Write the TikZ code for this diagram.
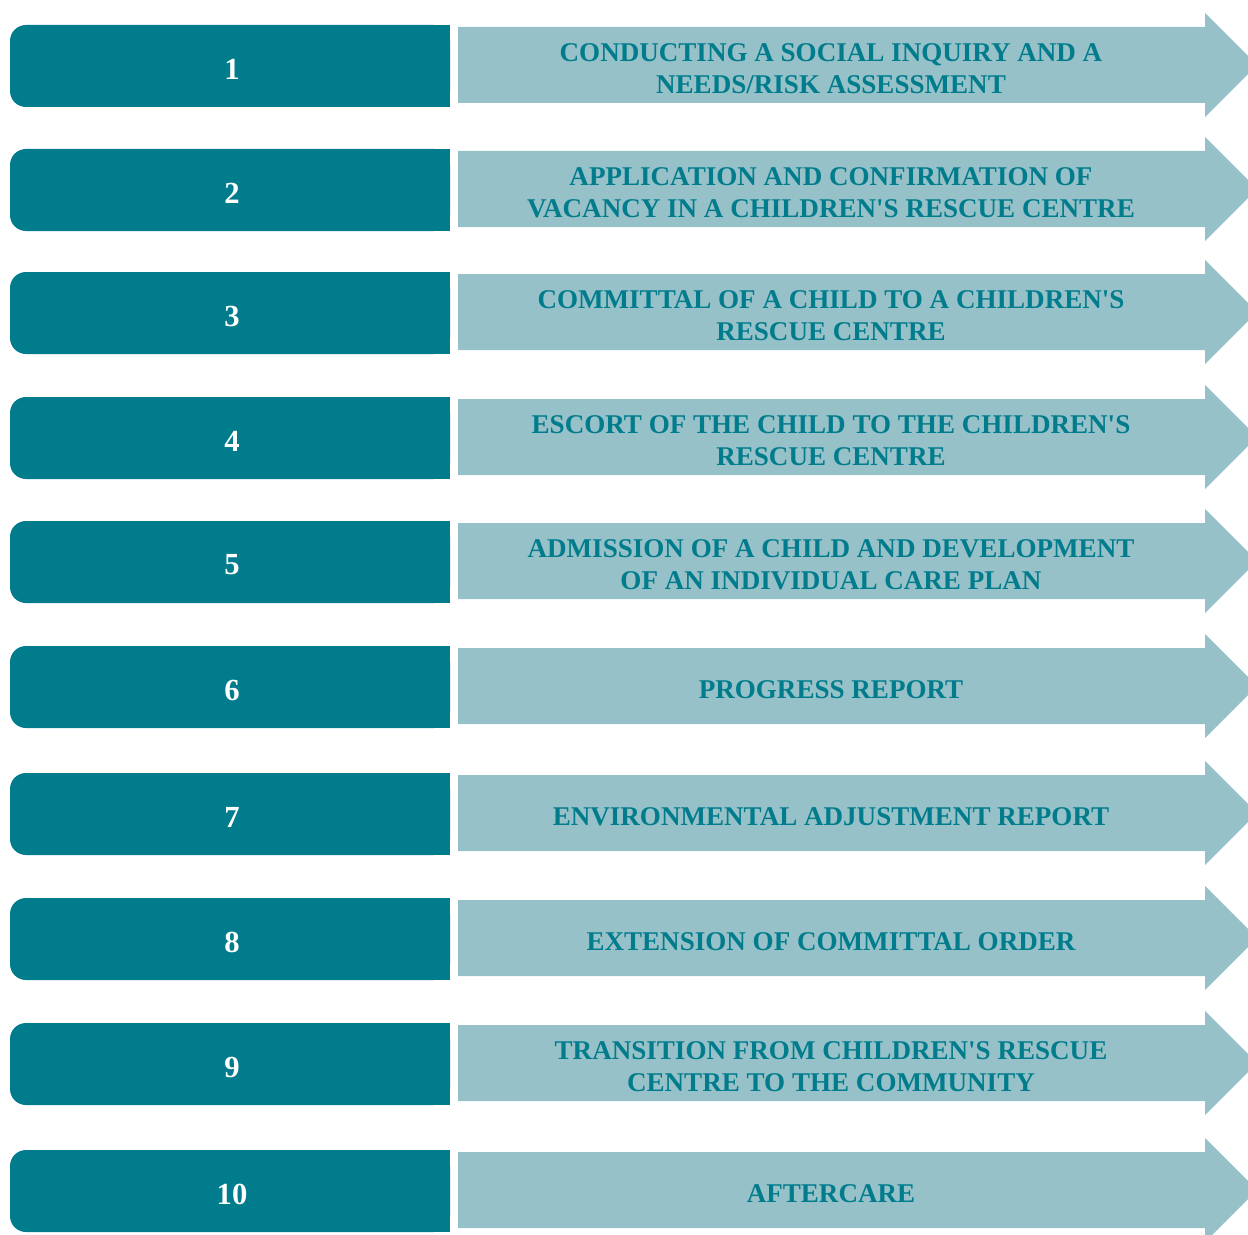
\documentclass[tikz,border=0pt]{standalone}
\usepackage{fontspec}
\setmainfont{Liberation Serif}
\usepackage{tikz}
\usetikzlibrary{positioning,calc}
\definecolor{deepteal}{HTML}{007C8C}
\definecolor{paleteal}{HTML}{96C1C8}
\newcommand{\ap}{\textquotesingle}

\begin{document}
\begin{tikzpicture}[x=0.75pt,y=-0.75pt,
    numtext/.style={text=white,font=\bfseries\fontsize{23}{27}\selectfont,inner sep=0},
    steptext/.style={text=deepteal,font=\bfseries\fontsize{20.3}{24}\selectfont,align=center,inner sep=0}]
  \clip (0,0) rectangle (1248,1234);
  \useasboundingbox (0,0) rectangle (1248,1234);
  % one row: centre y, number, step text
  \def\row#1#2#3{
    \fill[deepteal,rounded corners=12] (10,#1-41) rectangle (450,#1+41);
    \fill[deepteal] (300,#1-41) rectangle (450,#1+41);
    \fill[paleteal] (458,#1-39) -- (1205,#1-39) -- (1205,#1-53) -- (1257,#1-1)
      -- (1205,#1+51) -- (1205,#1+37) -- (458,#1+37) -- cycle;
    \node[numtext] (num#2) at (232,#1+3) {#2};
    \node[steptext] (step#2) at (831,#1+3) {#3};}
  \row{66}{1}{CONDUCTING A SOCIAL INQUIRY AND A\\NEEDS/RISK ASSESSMENT}
  \row{190}{2}{APPLICATION AND CONFIRMATION OF\\VACANCY IN A CHILDREN\ap S RESCUE CENTRE}
  \row{313}{3}{COMMITTAL OF A CHILD TO A CHILDREN\ap S\\RESCUE CENTRE}
  \row{438}{4}{ESCORT OF THE CHILD TO THE CHILDREN\ap S\\RESCUE CENTRE}
  \row{562}{5}{ADMISSION OF A CHILD AND DEVELOPMENT\\OF AN INDIVIDUAL CARE PLAN}
  \row{687}{6}{PROGRESS REPORT}
  \row{814}{7}{ENVIRONMENTAL ADJUSTMENT REPORT}
  \row{939}{8}{EXTENSION OF COMMITTAL ORDER}
  \row{1064}{9}{TRANSITION FROM CHILDREN\ap S RESCUE\\CENTRE TO THE COMMUNITY}
  \row{1191}{10}{AFTERCARE}
\end{tikzpicture}
\end{document}
